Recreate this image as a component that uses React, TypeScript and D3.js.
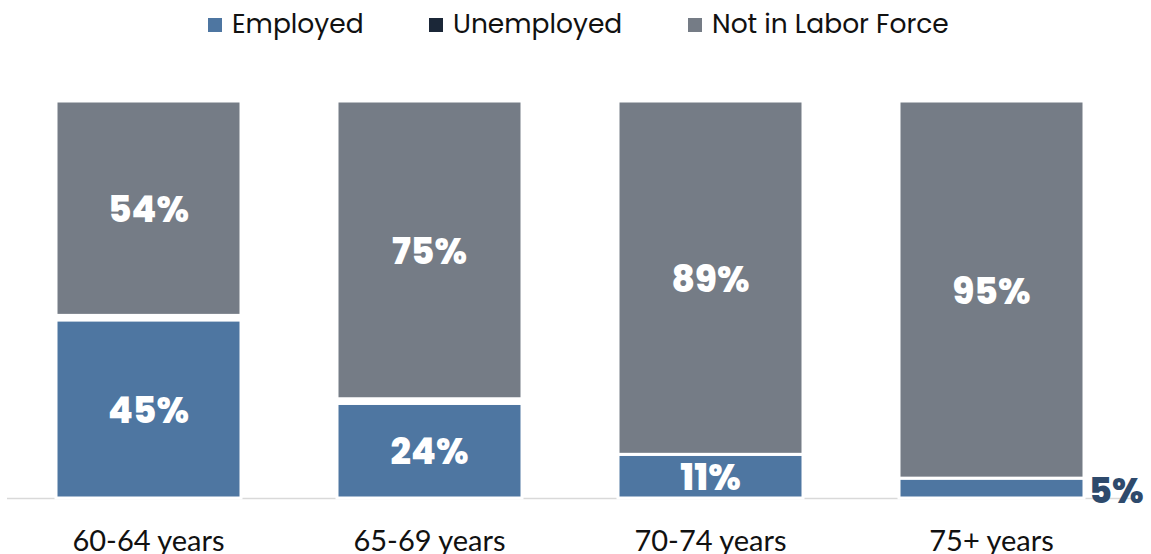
import React from "react";
import * as d3 from "d3";

const categories = ["60-64 years", "65-69 years", "70-74 years", "75+ years"];
const employed = [45, 24, 11, 5];
const unemployed = [1, 1, 0, 0];
const notInLaborForce = [54, 75, 89, 95];
const seriesNames = ["Employed", "Unemployed", "Not in Labor Force"];
const seriesColors = ["#4e76a1", "#1b2738", "#757c86"];

const W = 1151;
const H = 554;

export default function App() {
  const rows = categories.map((c, i) => ({
    cat: c,
    Employed: employed[i],
    Unemployed: unemployed[i],
    "Not in Labor Force": notInLaborForce[i],
  }));
  const stack = d3.stack<any>().keys(seriesNames);
  const layers = stack(rows);

  const x = d3
    .scaleBand<string>()
    .domain(categories)
    .range([8, 1132])
    .paddingInner(96 / 281)
    .paddingOuter(48 / 281);
  const y = d3.scaleLinear().domain([0, 100]).range([498, 101]);

  const labelFont = "'Poppins', 'Inter', 'Noto Sans', sans-serif";
  const legendX = [208, 429, 688];

  return (
    <svg
      width={W}
      height={H}
      style={{ position: "absolute", left: 0, top: 0, background: "#fff" }}
    >
      {/* legend */}
      {seriesNames.map((s, i) => (
        <g key={s} transform={`translate(${legendX[i]},0)`}>
          <rect x={0} y={18} width={14} height={14} fill={seriesColors[i]} />
          <text
            x={24}
            y={33}
            fontFamily={labelFont}
            fontSize={26.5}
            fill="#111"
          >
            {s}
          </text>
        </g>
      ))}

      {/* axis line */}
      <line x1={7} x2={1132} y1={498.5} y2={498.5} stroke="#d9d9d9" strokeWidth={1.5} />

      {/* bars */}
      {layers.map((layer, li) => (
        <g key={layer.key}>
          {layer.map((d, i) => {
            const y0 = y(d[0]);
            const y1 = y(d[1]);
            const h = y0 - y1;
            if (h <= 0) return null;
            return (
              <rect
                key={i}
                x={x(categories[i])}
                y={y1}
                width={x.bandwidth()}
                height={h}
                fill={seriesColors[li]}
                stroke="#fff"
                strokeWidth={layer.key === "Unemployed" ? 4.5 : 3}
              />
            );
          })}
        </g>
      ))}

      {/* value labels */}
      {layers.map((layer, li) =>
        layer.map((d, i) => {
          if (layer.key === "Unemployed") return null;
          const v = d[1] - d[0];
          const y0 = y(d[0]);
          const y1 = y(d[1]);
          const h = y0 - y1;
          const bx = x(categories[i]) as number;
          if (h < 30) {
            return (
              <text
                key={`${li}-${i}`}
                x={bx + x.bandwidth() + 5}
                y={(y0 + y1) / 2 + 5}
                dominantBaseline="middle"
                fontFamily={labelFont}
                fontWeight={800}
                fontSize={35}
                fill="#2e4a6c"
              >
                {`${v}%`}
              </text>
            );
          }
          return (
            <text
              key={`${li}-${i}`}
              x={bx + x.bandwidth() / 2}
              y={(y0 + y1) / 2 + 4}
              textAnchor="middle"
              dominantBaseline="middle"
              fontFamily={labelFont}
              fontWeight={800}
              fontSize={36}
              fill="#fff"
            >
              {`${v}%`}
            </text>
          );
        })
      )}

      {/* category labels */}
      {categories.map((c) => (
        <text
          key={c}
          x={(x(c) as number) + x.bandwidth() / 2}
          y={551}
          textAnchor="middle"
          fontFamily="'Lato', 'Carlito', sans-serif"
          fontSize={29}
          fill="#111"
        >
          {c}
        </text>
      ))}
    </svg>
  );
}
